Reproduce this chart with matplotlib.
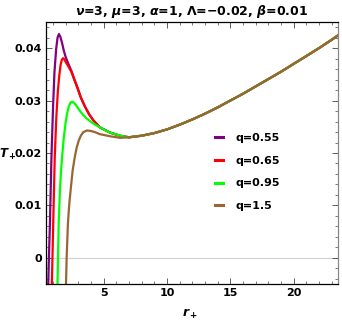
import matplotlib
matplotlib.use("Agg")
import matplotlib.pyplot as plt
from matplotlib.ticker import MultipleLocator

plt.rcParams['mathtext.fontset'] = 'custom'
plt.rcParams['mathtext.it'] = 'DejaVu Sans:bold:italic'
plt.rcParams['mathtext.rm'] = 'DejaVu Sans:bold'
plt.rcParams['mathtext.bf'] = 'DejaVu Sans:bold'

# shared tail (all curves coincide for r+ > ~7)
tail_x = [8, 9, 10, 11, 12, 13, 14, 15, 16, 17, 18, 19, 20, 21, 22, 23, 23.6]
tail_y = [0.0233, 0.0238, 0.0245, 0.0254, 0.0264, 0.0275, 0.0287, 0.0300, 0.0313,
          0.0327, 0.0341, 0.0355, 0.0370, 0.0385, 0.0400, 0.0416, 0.0426]

# q = 0.55
x_055 = [0.62, 0.68, 0.76, 0.88, 1.01, 1.12, 1.25, 1.36, 1.47, 1.58, 1.72, 1.85, 1.98,
         2.2, 2.45, 2.7, 2.95, 3.2, 3.5, 3.85, 4.2, 4.7, 5.5, 6.3, 7.0]
y_055 = [-0.006, 0.0, 0.0065, 0.0192, 0.0290, 0.0355, 0.0398, 0.0420, 0.0427, 0.0422,
         0.0410, 0.0396, 0.0385, 0.0371, 0.0357, 0.0340, 0.0324, 0.0306, 0.0290, 0.0274,
         0.0262, 0.0249, 0.0239, 0.0233, 0.0230]

# q = 0.65
x_065 = [0.90, 0.96, 1.02, 1.14, 1.27, 1.39, 1.5, 1.6, 1.7, 1.8, 1.9, 2.0, 2.2, 2.45,
         2.7, 2.95, 3.2, 3.5, 3.85, 4.2, 4.7, 5.5, 6.3, 7.0]
y_065 = [-0.006, 0.0, 0.0065, 0.0192, 0.0270, 0.0319, 0.0348, 0.0368, 0.0378, 0.0381,
         0.0379, 0.0374, 0.0366, 0.0355, 0.0339, 0.0323, 0.0306, 0.0290, 0.0274,
         0.0262, 0.0249, 0.0239, 0.0233, 0.0230]

# q = 0.95
x_095 = [1.35, 1.40, 1.45, 1.55, 1.63, 1.72, 1.85, 2.0, 2.13, 2.25, 2.38, 2.51, 2.65,
         2.8, 3.0, 3.2, 3.6, 4.2, 4.7, 5.5, 6.3, 7.0]
y_095 = [-0.006, 0.0, 0.0065, 0.0128, 0.0163, 0.0192, 0.0228, 0.0258, 0.0277, 0.0289,
         0.0296, 0.0298, 0.0296, 0.0292, 0.0285, 0.0278, 0.0267, 0.0256, 0.0249,
         0.0239, 0.0233, 0.0230]

# q = 1.5
x_15 = [2.02, 2.08, 2.18, 2.28, 2.39, 2.55, 2.72, 2.88, 3.04, 3.2, 3.4, 3.69, 4.0,
        4.3, 4.7, 5.5, 6.3, 7.0]
y_15 = [-0.006, 0.0, 0.0065, 0.0100, 0.0128, 0.0166, 0.0192, 0.0211, 0.0224, 0.0233,
        0.0240, 0.0243, 0.0242, 0.0240, 0.0236, 0.0232, 0.0229, 0.0230]

labels = ['q=0.55', 'q=0.65', 'q=0.95', 'q=1.5']
colors = ['#800080', '#ff0000', '#00ff00', '#996633']
series = [(x_055, y_055), (x_065, y_065), (x_095, y_095), (x_15, y_15)]

fig = plt.figure(figsize=(3.42, 3.24), dpi=100)
ax = fig.add_axes([0.1345, 0.1235, 0.8535, 0.8085])

ax.axhline(0, color='#d0d0d0', lw=0.8, zorder=0)
for (xs, ys), c, lab in zip(series, colors, labels):
    ax.plot(xs + tail_x, ys + tail_y, color=c, lw=1.6, label=lab,
            solid_joinstyle='round')

ax.set_xlim(0.45, 23.5)
ax.set_ylim(-0.005, 0.045)
ax.set_xticks([5, 10, 15, 20])
ax.set_xticklabels(['5', '10', '15', '20'])
ax.set_yticks([0, 0.01, 0.02, 0.03, 0.04])
ax.set_yticklabels(['0', '0.01', '0.02', '0.03', '0.04'])
ax.xaxis.set_minor_locator(MultipleLocator(1))
ax.yaxis.set_minor_locator(MultipleLocator(0.002))
ax.tick_params(which='both', direction='in', top=True, right=True, colors='#444444',
               labelcolor='black', labelsize=8, pad=3)
ax.tick_params(which='major', length=4, width=0.6)
ax.tick_params(which='minor', length=2, width=0.5)
for t in ax.get_xticklabels() + ax.get_yticklabels():
    t.set_fontweight('bold')
for s in ax.spines.values():
    s.set_linewidth(0.9)
ax.spines['right'].set_color('#888888')

ax.set_title(r'$\nu$=3, $\mu$=3, $\alpha$=1, $\Lambda$=−0.02, $\beta$=0.01',
             fontsize=9, fontweight='bold', pad=5)
fig.text(0.555, 0.03, r'$r_+$', ha='center', va='center', fontsize=9)
fig.text(0.022, 0.522, r'$T_+$', ha='center', va='center', fontsize=8.5)

leg = ax.legend(loc='upper left', bbox_to_anchor=(0.545, 0.615), frameon=False,
                handlelength=0.75, handletextpad=1.1, labelspacing=1.15,
                prop={'weight': 'bold', 'size': 8})
for h in leg.get_lines():
    h.set_linewidth(2.2)

fig.savefig('out.png', dpi=100)
